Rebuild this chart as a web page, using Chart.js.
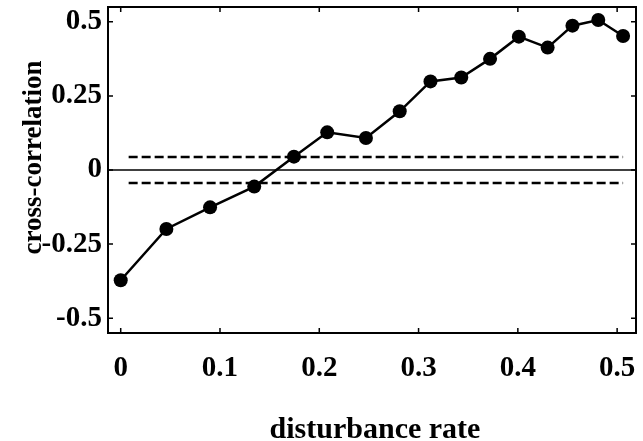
<!DOCTYPE html>
<html>
<head>
<meta charset="utf-8">
<script src="https://cdn.jsdelivr.net/npm/chart.js@4/dist/chart.umd.min.js"></script>
<style>
  body { margin: 0; background: #fff; }
  canvas { display: block; }
</style>
</head>
<body>
<canvas id="grafico" width="643" height="441"></canvas>
<script>
// datos
const rate = [0, 0.046, 0.090, 0.1345, 0.1745, 0.208, 0.247, 0.281, 0.312, 0.343, 0.372, 0.401, 0.430, 0.455, 0.481, 0.506];
const corr = [-0.372, -0.199, -0.126, -0.056, 0.045, 0.127, 0.108, 0.198, 0.299, 0.312, 0.375, 0.450, 0.413, 0.487, 0.506, 0.452];

// bandas de confianza (discontinuas) y eje cero
const bandX = [0.008, 0.506];
const bandUpper = 0.044;
const bandLower = -0.044;

const xTicks = [0, 0.1, 0.2, 0.3, 0.4, 0.5];
const xTickLabels = ['0', '0.1', '0.2', '0.3', '0.4', '0.5'];
const yTicks = [-0.5, -0.25, 0, 0.25, 0.5];
const yTickLabels = ['-0.5', '-0.25', '0', '0.25', '0.5'];

const xMin = -0.0128, xMax = 0.519;
const yMin = -0.55, yMax = 0.55;

const serif = '"Liberation Serif", "Times New Roman", serif';

// marco y marcas interiores + titulos de ejes
const marco = {
    id: 'marco',
    afterDatasetsDraw(chart) {
        const ctx = chart.ctx;
        const a = chart.chartArea;
        const sx = chart.scales.x, sy = chart.scales.y;
        ctx.save();
        ctx.strokeStyle = '#000';
        ctx.lineWidth = 2;
        ctx.strokeRect(a.left, a.top, a.right - a.left, a.bottom - a.top);
        ctx.lineWidth = 1.5;
        ctx.beginPath();
        xTicks.forEach(v => {
            const px = sx.getPixelForValue(v);
            ctx.moveTo(px, a.bottom); ctx.lineTo(px, a.bottom - 5);
            ctx.moveTo(px, a.top); ctx.lineTo(px, a.top + 5);
        });
        yTicks.forEach(v => {
            const py = sy.getPixelForValue(v);
            ctx.moveTo(a.left, py); ctx.lineTo(a.left + 5, py);
            ctx.moveTo(a.right, py); ctx.lineTo(a.right - 5, py);
        });
        ctx.stroke();

        ctx.fillStyle = '#000';
        ctx.font = 'bold 30px ' + serif;
        ctx.textAlign = 'center';
        ctx.textBaseline = 'alphabetic';
        ctx.fillText('disturbance rate', 375, 438);

        ctx.translate(41, 157.5);
        ctx.rotate(-Math.PI / 2);
        ctx.font = 'bold 27px ' + serif;
        ctx.fillText('cross-correlation', 0, 0);
        ctx.restore();
    }
};

const data = {
    datasets: [
        {
            label: 'cross-correlation',
            data: rate.map((r, i) => ({ x: r, y: corr[i] })),
            borderColor: '#000',
            backgroundColor: '#000',
            borderWidth: 2.5,
            pointRadius: 7,
            pointBackgroundColor: '#000',
            pointBorderWidth: 0,
            tension: 0,
            order: 0,
            clip: false
        },
        {
            label: 'upper',
            data: bandX.map(x => ({ x: x, y: bandUpper })),
            borderColor: '#000',
            borderWidth: 2.5,
            borderDash: [9, 4],
            pointRadius: 0,
            order: 1
        },
        {
            label: 'lower',
            data: bandX.map(x => ({ x: x, y: bandLower })),
            borderColor: '#000',
            borderWidth: 2.5,
            borderDash: [9, 4],
            pointRadius: 0,
            order: 1
        },
        {
            label: 'cero',
            data: [{ x: xMin, y: 0 }, { x: xMax, y: 0 }],
            borderColor: '#000',
            borderWidth: 1.5,
            pointRadius: 0,
            order: 2
        }
    ]
};

const config = {
    type: 'line',
    data: data,
    plugins: [marco],
    options: {
        responsive: false,
        animation: false,
        devicePixelRatio: 1,
        layout: { padding: { top: 5, right: 7, left: 0, bottom: 0 } },
        plugins: {
            legend: { display: false },
            tooltip: { enabled: false }
        },
        scales: {
            x: {
                type: 'linear',
                min: xMin,
                max: xMax,
                grid: { display: false, drawTicks: false },
                border: { display: false },
                afterBuildTicks: (scale) => { scale.ticks = xTicks.map(v => ({ value: v })); },
                afterFit: (scale) => {
                    scale.height = 108;
                    scale.paddingLeft = 0;
                    scale.paddingRight = 0;
                },
                ticks: {
                    color: '#000',
                    padding: 18,
                    maxRotation: 0,
                    autoSkip: false,
                    font: { family: serif, size: 29, weight: 'bold' },
                    callback: (v) => {
                        const i = xTicks.indexOf(v);
                        return i >= 0 ? xTickLabels[i] : '';
                    }
                }
            },
            y: {
                type: 'linear',
                min: yMin,
                max: yMax,
                grid: { display: false, drawTicks: false },
                border: { display: false },
                afterBuildTicks: (scale) => { scale.ticks = yTicks.map(v => ({ value: v })); },
                afterFit: (scale) => {
                    scale.width = 108;
                    scale.paddingTop = 0;
                    scale.paddingBottom = 0;
                },
                ticks: {
                    color: '#000',
                    padding: 6,
                    autoSkip: false,
                    font: { family: serif, size: 29, weight: 'bold' },
                    callback: (v) => {
                        const i = yTicks.indexOf(v);
                        return i >= 0 ? yTickLabels[i] : '';
                    }
                }
            }
        }
    }
};

const myChart = new Chart(document.getElementById('grafico'), config);
</script>
</body>
</html>
